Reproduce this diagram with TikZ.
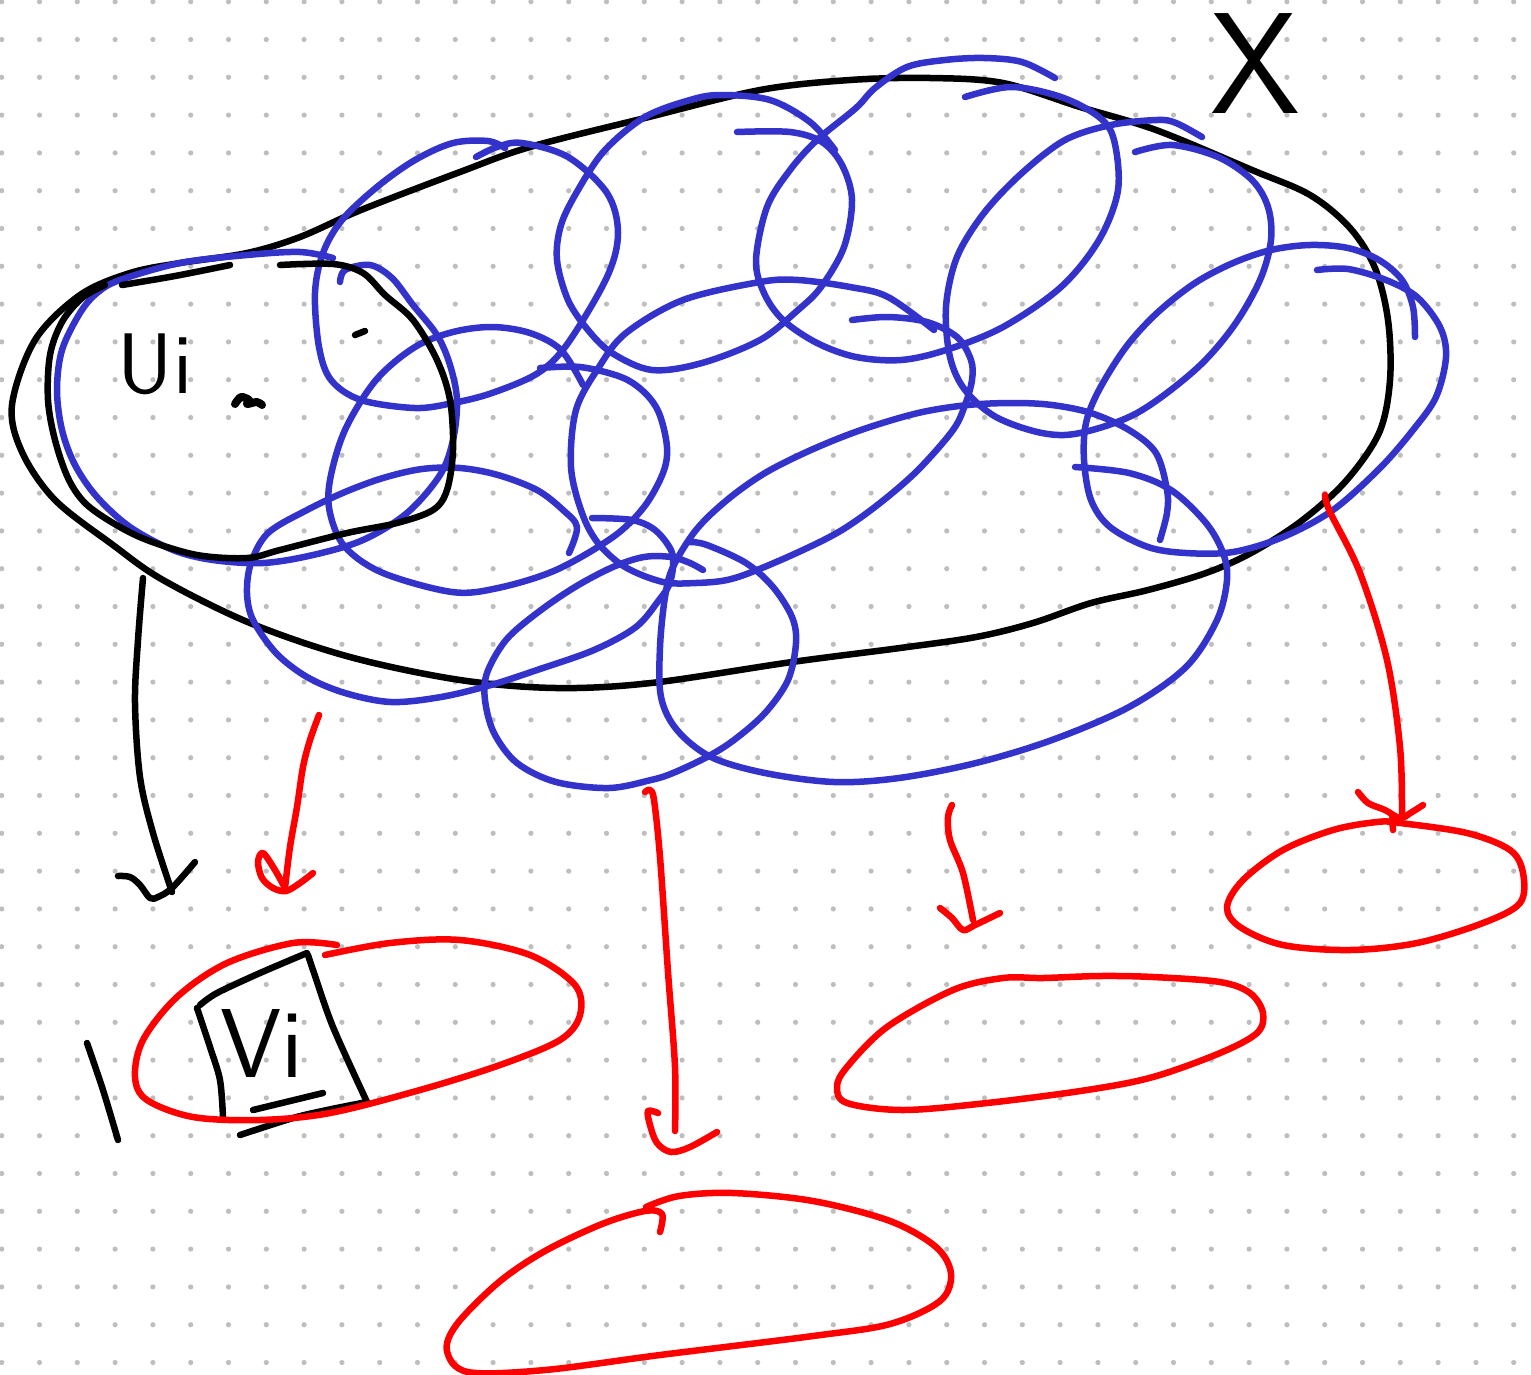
\documentclass[tikz,border=0pt]{standalone}
\usepackage{fontspec}
\definecolor{penblue}{RGB}{51,51,204}
\definecolor{penred}{RGB}{255,0,0}
\definecolor{dotgrey}{RGB}{190,190,190}
\begin{document}
\begin{tikzpicture}[x=1pt,y=-1pt,
  pen/.style={line width=6.5pt, line cap=round, line join=round},
  blk/.style={pen, black},
  blu/.style={pen, penblue},
  rd/.style={pen, penred},
  lbl/.style={inner sep=0pt, font=\sffamily}]
\fill[white] (0,0) rectangle (1531,1374);
\useasboundingbox (0,0) rectangle (1531,1374);
% dot grid
\foreach \i in {0,...,40} {
  \foreach \j in {0,...,36} {
    \fill[dotgrey] ({1.7+37.8*\i},{1.7+37.8*\j}) circle (2.6pt);
  }
}
% big outline X
\draw[blk] plot[smooth cycle, tension=0.55] coordinates {
(12,405) (22,452) (55,500) (113,545) (163,580) (250,623) (350,657) (460,680)
(556,688) (651,683) (792,662) (900,648) (976,637) (1033,623) (1091,603)
(1148,590) (1206,573) (1251,553) (1300,522) (1345,482) (1379,433) (1390,380)
(1388,320) (1375,268) (1350,228) (1310,195) (1252,170) (1156,130) (1080,107)
(1003,83) (930,78) (850,80) (760,90) (645,118) (530,147) (460,172) (361,210)
(300,237) (247,253) (180,263) (130,273) (80,295) (35,340)};
% blue loops
\draw[blu] plot[smooth, tension=0.55] coordinates {
(340,282) (345,270) (370,265) (392,278) (413,305) (437,335) (450,365) (457,400)
(453,440) (440,475) (407,513) (363,540) (313,555) (263,563) (213,560) (173,550)
(130,527) (97,497) (75,465) (62,430) (57,390) (62,350) (80,313) (97,293)
(120,280) (180,263) (247,255) (300,252) (333,258)};
\draw[blu] plot[smooth, tension=0.55] coordinates {
(476,157) (497,147) (522,143) (568,157) (607,193) (618,233) (607,277) (568,343)
(538,373) (492,393) (453,403) (415,408) (361,400) (331,380) (319,347) (315,293)
(323,253) (342,220) (377,187) (415,160) (453,143) (488,141) (505,148)};
\draw[blu] plot[smooth, tension=0.55] coordinates {
(737,132) (790,132) (822,142) (842,165) (852,200) (844,247) (821,287) (798,310)
(760,340) (702,363) (652,370) (612,353) (588,330) (568,300) (557,260) (561,225)
(578,190) (605,150) (645,117) (690,100) (721,95) (770,100) (810,122) (835,150)};
\draw[blu] plot[smooth, tension=0.55] coordinates {
(1055,78) (1022,62) (984,58) (945,60) (907,67) (875,88) (856,108) (817,140)
(790,170) (767,207) (756,260) (764,293) (783,320) (817,343) (856,357) (901,360)
(946,350) (1003,327) (1061,287) (1099,240) (1118,190) (1114,140) (1099,117)
(1061,97) (1011,87) (965,97)};
\draw[blu] plot[smooth, tension=0.55] coordinates {
(1202,137) (1176,123) (1157,120) (1111,125) (1065,140) (1022,173) (984,213)
(957,257) (946,307) (950,357) (965,390) (996,417) (1042,433) (1080,433)
(1137,413) (1195,370) (1233,327) (1260,280) (1271,240) (1268,207) (1252,180)
(1218,157) (1172,145) (1135,152)};
\draw[blu] plot[smooth, tension=0.55] coordinates {
(540,368) (580,367) (621,377) (644,392) (659,413) (667,447) (663,473) (644,507)
(613,537) (556,570) (498,588) (452,592) (383,573) (345,547) (330,513) (330,480)
(345,430) (376,380) (415,347) (453,332) (492,327) (530,333) (561,350) (583,385)};
\draw[blu] plot[smooth, tension=0.55] coordinates {
(592,518) (632,520) (655,530) (671,550) (673,567) (669,585) (659,600) (636,627)
(594,650) (537,670) (491,685) (441,697) (391,702) (345,693) (307,677) (276,653)
(253,620) (247,593) (251,563) (268,533) (307,510) (345,492) (383,478) (422,469)
(460,468) (498,475) (537,490) (563,510) (577,527) (569,553)};
\draw[blu] plot[smooth, tension=0.55] coordinates {
(690,542) (707,545) (746,563) (773,587) (792,617) (796,643) (788,680) (765,713)
(734,740) (707,757) (673,773) (651,780) (609,788) (556,782) (517,763) (494,733)
(485,700) (487,673) (506,640) (537,613) (575,587) (613,567) (644,557) (671,557)
(690,563) (703,570)};
\draw[blu] plot[smooth, tension=0.55] coordinates {
(852,320) (888,317) (927,322) (957,337) (971,360) (972,380) (965,405) (953,430)
(918,470) (880,503) (842,530) (803,550) (757,570) (727,580) (696,583) (663,582)
(625,567) (598,543) (582,513) (571,467) (576,410) (599,367) (626,333) (683,300)
(760,282) (798,280) (850,287) (888,297) (934,330)};
\draw[blu] plot[smooth, tension=0.55] coordinates {
(1075,467) (1129,473) (1171,490) (1206,523) (1223,553) (1227,580) (1217,620)
(1186,667) (1129,707) (1052,740) (976,763) (899,778) (834,782) (765,773)
(711,757) (677,730) (661,697) (660,647) (665,597) (673,567) (696,530) (727,500)
(765,473) (811,450) (861,430) (918,413) (968,405) (1014,403) (1052,405)
(1091,413) (1129,430) (1156,453) (1167,490) (1167,513) (1160,540)};
\draw[blu] plot[smooth, tension=0.55] coordinates {
(1317,270) (1348,269) (1386,280) (1417,297) (1440,327) (1446,357) (1436,397)
(1413,430) (1380,468) (1333,510) (1283,537) (1233,552) (1186,553) (1148,547)
(1110,527) (1091,500) (1084,460) (1086,423) (1099,390) (1126,347) (1157,313)
(1195,283) (1233,263) (1271,250) (1310,245) (1348,248) (1379,260) (1402,280)
(1413,307) (1415,337)};
% black U_i blob
\draw[blk] plot[smooth, tension=0.55] coordinates {(122,285) (175,276) (230,265)};
\draw[blk] plot[smooth, tension=0.55] coordinates {
(280,265) (333,264) (363,273) (385,295) (413,320) (437,360) (450,400) (453,450)
(447,490) (433,510) (397,523) (347,533) (280,550) (247,558) (197,555) (147,540)
(113,523) (85,503) (68,478) (55,440) (48,400) (50,355) (62,322) (82,298) (105,285)};
\draw[blk] (355,335) -- (365,331);
\draw[blk, line width=8pt] plot[smooth, tension=0.5] coordinates {(235,404) (241,397) (249,400) (247,404) (257,402) (262,405)};
\node[lbl, font=\sffamily\fontsize{86}{86}\selectfont] (ui) at (155,364) {Ui};
% X label
\node[lbl, font=\sffamily\fontsize{144}{144}\selectfont] (xlab) at (1255,64) {X};
% black arrow
\draw[blk] plot[smooth, tension=0.55] coordinates {(143,578) (138,640) (135,703) (140,777) (153,833) (172,892)};
\draw[blk] plot[smooth, tension=0.55] coordinates {(118,876) (130,877) (140,885) (150,898) (158,897) (172,888) (195,862)};
% V_i box
\draw[blk] plot[smooth, tension=0.5] coordinates {(197,1008) (210,1047) (220,1080) (223,1117)};
\draw[blk] plot[smooth, tension=0.5] coordinates {(200,1005) (217,993) (260,973) (307,953)};
\draw[blk] plot[smooth, tension=0.5] coordinates {(308,955) (313,970) (333,1027) (367,1102)};
\draw[blk] plot[smooth, tension=0.5] coordinates {(367,1102) (327,1110) (293,1118) (240,1135)};
\node[lbl, font=\sffamily\fontsize{98}{98}\selectfont] (vi) at (262,1043) {Vi};
\draw[blk] (253,1110) -- (323,1093);
\draw[blk] plot[smooth, tension=0.5] coordinates {(87,1043) (103,1090) (118,1140)};
% red shapes
\draw[rd] plot[smooth, tension=0.55] coordinates {
(325,955) (390,943) (460,940) (530,955) (575,985) (580,1015) (560,1040) (500,1065)
(420,1090) (330,1113) (260,1120) (193,1117) (147,1100) (135,1077) (143,1040)
(177,997) (227,963) (293,943) (337,945)};
\draw[rd] plot[smooth, tension=0.55] coordinates {
(646,1207) (679,1196) (733,1193) (813,1201) (890,1221) (936,1247) (951,1274)
(940,1301) (890,1324) (813,1336) (660,1355) (545,1370) (468,1372) (447,1351)
(457,1324) (499,1282) (545,1251) (602,1224) (645,1211) (662,1214) (660,1232)};
\draw[rd] plot[smooth cycle, tension=0.55] coordinates {
(1043,978) (1100,976) (1153,977) (1220,982) (1250,993) (1263,1013) (1257,1033)
(1220,1053) (1153,1077) (1087,1090) (987,1103) (903,1110) (847,1103) (837,1087)
(847,1067) (887,1027) (953,990) (1003,978)};
\draw[rd] plot[smooth cycle, tension=0.55] coordinates {
(1377,822) (1333,830) (1283,850) (1243,880) (1227,907) (1240,927) (1283,945)
(1350,950) (1417,943) (1483,923) (1520,903) (1523,873) (1510,850) (1467,833)
(1400,823)};
% red arrows
\draw[rd] plot[smooth, tension=0.55] coordinates {(319,715) (310,740) (303,767) (297,807) (290,847) (285,888)};
\draw[rd] plot[smooth, tension=0.55] coordinates {(285,888) (275,870) (263,853) (258,862) (262,878) (273,888) (286,891) (300,883) (313,873)};
\draw[rd] plot[smooth, tension=0.55] coordinates {(645,792) (650,790) (654,800) (660,857) (668,972) (675,1067) (675,1131)};
\draw[rd] plot[smooth, tension=0.55] coordinates {(658,1113) (648,1111) (650,1125) (657,1143) (671,1152) (690,1147) (717,1132)};
\draw[rd] plot[smooth, tension=0.55] coordinates {(952,805) (948,817) (950,840) (963,873) (973,920)};
\draw[rd] plot[smooth, tension=0.55] coordinates {(940,908) (952,918) (963,930) (975,925) (1000,913)};
\draw[rd] plot[smooth, tension=0.55] coordinates {(1325,495) (1330,512) (1360,573) (1387,660) (1400,747) (1402,813)};
\draw[rd] plot[smooth, tension=0.55] coordinates {(1358,792) (1368,803) (1385,810) (1400,818) (1412,812) (1423,805)};
\draw[rd] (1392,818) -- (1393,830);
\end{tikzpicture}
\end{document}
